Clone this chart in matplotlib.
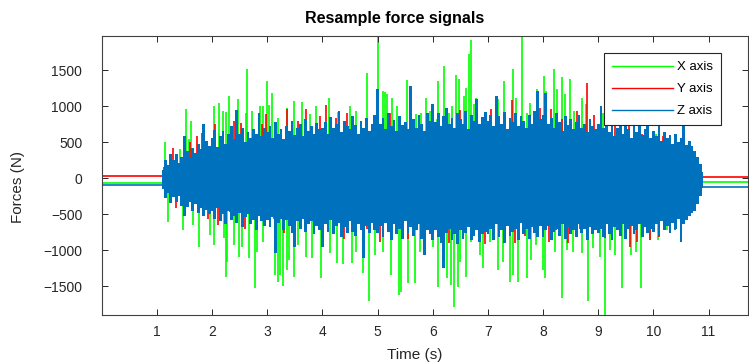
import numpy as np
import matplotlib
matplotlib.use('Agg')
import matplotlib.pyplot as plt
from matplotlib.lines import Line2D

# resting levels before / after the cut (N)
rest_before = [0.0, 1.09]
rest_after = [10.9, 11.71]
x_rest = [-62, -56]
y_rest = [25, 22]
z_rest = [-88, -115]

# Z axis (blue) band: upper / lower values every 0.05 s from 1.10 s to 10.90 s
z_start = 1.10
z_step = 0.05
z_hi = [120, 260, 180, 330, 250, 340, 210, 300, 590, 380, 300, 420, 350, 480, 400, 760, 520, 450,
        560, 670, 430, 590, 650, 480, 610, 720, 540, 950, 620, 700, 500, 640, 560, 690, 610, 910, 580, 700,
        640, 720, 560, 780, 610, 690, 540, 730, 650, 800, 600, 700, 760, 580, 820, 660, 720, 610, 770, 690,
        700, 780, 620, 850, 700, 760, 930, 640, 800, 720, 680, 860, 740, 610, 790, 700, 830, 660, 750, 880,
        1240, 760, 840, 680, 900, 720, 810, 650, 860, 740, 780, 690, 1280, 820, 700, 880, 760, 650, 900, 800,
        1030, 780, 900, 720, 860, 980, 760, 840, 700, 900, 820, 760, 940, 690, 880, 800, 1100, 750, 850, 920,
        800, 880, 720, 1140, 860, 760, 920, 690, 840, 780, 900, 730, 860, 800, 700, 880, 760, 940, 1210, 820,
        880, 1190, 760, 840, 700, 900, 780, 650, 860, 740, 820, 690, 780, 880, 700, 760, 640, 820, 720, 680,
        760, 1000, 700, 820, 640, 760, 580, 700, 800, 620, 740, 680, 560, 720, 640, 780, 600, 680, 720, 560,
        660, 580, 720, 520, 640, 560, 600, 480, 620, 500, 560, 720, 460, 520, 450, 380, 300, 200, 90]
z_lo = [-150, -280, -210, -350, -260, -330, -240, -380, -530, -400, -330, -450, -360, -480, -420, -520, -440, -500,
        -460, -560, -420, -600, -500, -640, -450, -580, -520, -620, -480, -680, -540, -500, -640, -580, -720, -520, -600, -660,
        -580, -680, -540, -1040, -620, -560, -720, -580, -660, -760, -950, -600, -700, -560, -740, -640, -600, -780, -660, -720,
        -950, -640, -740, -580, -780, -660, -620, -820, -680, -760, -600, -740, -800, -640, -720, -1110, -660, -760, -620, -720,
        -760, -660, -820, -620, -740, -860, -640, -780, -700, -840, -600, -760, -680, -800, -720, -640, -840, -1060, -720, -780,
        -860, -720, -820, -900, -1250, -760, -700, -860, -780, -920, -720, -840, -760, -680, -860, -800, -720, -880, -780, -740,
        -780, -700, -860, -640, -820, -720, -900, -660, -800, -740, -700, -860, -620, -780, -700, -840, -680, -760, -820, -660,
        -820, -720, -660, -860, -740, -700, -800, -640, -840, -680, -780, -720, -820, -640, -760, -700, -860, -680, -780, -720,
        -760, -700, -820, -640, -780, -860, -680, -720, -800, -640, -840, -700, -660, -780, -720, -640, -820, -680, -760, -700,
        -740, -640, -800, -600, -720, -660, -760, -620, -700, -560, -880, -640, -580, -520, -480, -460, -360, -240, -130]

# X axis (green) peaks
x_up_t = [1.14, 1.42, 1.53, 1.59, 1.62, 2.04, 2.13, 2.19, 2.26, 2.31, 2.47, 2.61, 2.64, 2.72, 2.87, 2.92,
          2.99, 3.03, 3.08, 3.19, 3.35, 3.49, 3.63, 3.78, 3.88, 4.12, 4.29, 4.50, 4.61, 4.80, 5.00, 5.09,
          5.13, 5.18, 5.27, 5.36, 5.53, 5.60, 5.70, 5.78, 5.88, 5.95, 6.08, 6.10, 6.20, 6.29, 6.35, 6.42,
          6.48, 6.56, 6.61, 6.65, 6.69, 6.75, 6.79, 6.95, 7.19, 7.29, 7.45, 7.51, 7.61, 7.70, 7.76, 7.89,
          8.02, 8.06, 8.20, 8.26, 8.35, 8.40, 8.49, 8.56, 8.70, 8.78, 9.08, 9.50, 9.85, 10.05, 10.30]
x_up_v = [505, 400, 968, 540, 796, 1005, 1042, 935, 921, 1143, 1097, 912, 1514, 935, 1005, 1005,
          1352, 1019, 1190, 843, 982, 1074, 1060, 889, 1005, 1116, 921, 1005, 935, 1458, 1990, 1213,
          1199, 1167, 1120, 1005, 1366, 1282, 889, 912, 1120, 935, 820, 1352, 1560, 912, 1005, 1430,
          1375, 1143, 1259, 1722, 1921, 1028, 1120, 843, 1097, 1352, 1523, 1120, 1990, 912, 1051, 1236,
          1421, 1213, 1514, 1236, 1412, 1167, 1375, 935, 1120, 1028, 912, 700, 680, 620, 560]
x_dn_t = [1.21, 1.48, 1.65, 1.77, 1.97, 2.04, 2.22, 2.26, 2.28, 2.39, 2.48, 2.54, 2.67, 2.78, 2.81, 2.93,
          3.15, 3.19, 3.23, 3.28, 3.35, 3.40, 3.49, 3.55, 3.70, 3.81, 3.97, 4.14, 4.26, 4.37, 4.53, 4.61,
          4.74, 4.84, 4.96, 5.10, 5.25, 5.38, 5.42, 5.56, 5.68, 5.77, 6.00, 6.10, 6.25, 6.34, 6.39, 6.46,
          6.49, 6.60, 6.70, 6.85, 6.92, 7.04, 7.19, 7.28, 7.40, 7.45, 7.54, 7.70, 7.79, 7.88, 8.00, 8.03,
          8.21, 8.34, 8.43, 8.55, 8.70, 8.81, 8.91, 9.04, 9.12, 9.21, 9.30, 9.44, 9.60, 9.69, 9.78, 9.93,
          10.09, 10.24]
x_dn_v = [-602, -718, -648, -949, -787, -926, -833, -1366, -1158, -926, -1088, -949, -1102, -1528, -1019, -880,
          -1343, -1445, -1343, -1491, -1273, -1134, -1366, -926, -1088, -1111, -1389, -1042, -1181, -1195, -1181, -1019,
          -1320, -1704, -1065, -1019, -1343, -1621, -1574, -1458, -1458, -1019, -949, -1505, -1389, -1482, -1783, -1505,
          -1158, -1366, -880, -1065, -1250, -880, -1273, -1158, -1445, -1343, -1445, -1389, -1134, -926, -1273, -1389,
          -1019, -1658, -995, -1019, -1042, -1704, -972, -1088, -1910, -995, -1065, -1528, -1065, -1019, -1519, -857,
          -857, -718]

# Y axis (red) peaks
y_up_t = [1.12, 1.24, 1.30, 1.60, 1.72, 1.82, 2.06, 2.16, 2.40, 2.52, 2.90, 2.97, 3.35, 3.55, 3.70, 3.95,
          4.06, 4.25, 4.45, 4.60, 4.81, 5.22, 5.48, 5.75, 6.06, 6.25, 6.50, 7.05, 7.19, 7.44, 7.95, 8.15,
          8.35, 8.61, 8.80, 8.92, 9.30, 9.55, 9.74, 9.80, 10.18, 10.26, 10.64, 10.70]
y_up_v = [150, 230, 420, 500, 588, 634, 760, 518, 800, 764, 750, 889, 968, 800, 958, 870,
          1014, 843, 900, 718, 782, 900, 611, 830, 736, 680, 950, 960, 750, 1088, 980, 960,
          820, 935, 1329, 880, 860, 800, 560, 620, 588, 450, 420, 380]
y_dn_t = [1.35, 1.55, 1.92, 2.10, 2.33, 2.60, 2.76, 3.12, 3.30, 3.47, 3.85, 4.03, 4.40, 4.80, 5.05, 5.19,
          5.55, 5.74, 6.07, 6.30, 6.70, 6.95, 7.28, 7.50, 7.67, 8.10, 8.24, 8.45, 8.67, 9.12, 9.57, 9.70,
          9.94, 10.10, 10.40, 10.50]
y_dn_v = [-420, -400, -560, -650, -470, -700, -520, -560, -760, -580, -780, -620, -850, -700, -880, -560,
          -850, -620, -700, -900, -860, -920, -700, -900, -800, -880, -720, -900, -700, -833, -949, -880,
          -857, -820, -720, -760]

green = '#00FF00'
red = '#FF0000'
blue = '#0072BD'
dark = '#262626'

plt.rcParams['font.family'] = ['Liberation Sans', 'DejaVu Sans']

fig = plt.figure(figsize=(7.49, 3.64), dpi=100)
ax = fig.add_axes([0.1358, 0.1346, 0.8625, 0.7665])

z_t = z_start + z_step * np.arange(len(z_hi))

# X axis (drawn first, underneath)
ax.plot(rest_before, [x_rest[0]] * 2, color=green, lw=1.2, zorder=1)
ax.plot(rest_after, [x_rest[1]] * 2, color=green, lw=1.2, zorder=1)
ax.vlines(x_up_t, 0, x_up_v, color=green, lw=1.2, zorder=1)
ax.vlines(x_dn_t, 0, x_dn_v, color=green, lw=1.2, zorder=1)

# Y axis
ax.plot(rest_before, [y_rest[0]] * 2, color=red, lw=1.2, zorder=2)
ax.plot(rest_after, [y_rest[1]] * 2, color=red, lw=1.2, zorder=2)
ax.vlines(y_up_t, 0, y_up_v, color=red, lw=1.2, zorder=2)
ax.vlines(y_dn_t, 0, y_dn_v, color=red, lw=1.2, zorder=2)

# Z axis (on top)
ax.plot(rest_before, [z_rest[0]] * 2, color=blue, lw=1.2, zorder=3)
ax.plot(rest_after, [z_rest[1]] * 2, color=blue, lw=1.2, zorder=3)
ax.fill_between(z_t, z_lo, z_hi, step='mid', color=blue, lw=0, zorder=3)

ax.set_xlim(0, 11.71)
ax.set_ylim(-1900, 1976)
ax.set_xticks(range(1, 12))
ax.set_yticks([-1500, -1000, -500, 0, 500, 1000, 1500])

for s in ax.spines.values():
    s.set_color('#404040')
    s.set_linewidth(0.8)
    s.set_zorder(5)
ax.tick_params(direction='in', length=4, width=0.7, color=dark, labelcolor=dark,
               labelsize=10, top=True, right=True)
ax.tick_params(axis='x', pad=7)
ax.tick_params(axis='y', pad=14)

ax.set_xlabel('Time (s)', fontsize=11, color=dark, va='center')
ax.xaxis.set_label_coords(0.484, -0.143)
ax.set_ylabel('Forces (N)', fontsize=11, color=dark, va='center')
ax.yaxis.set_label_coords(-0.129, 0.457)

fig.text(394.5 / 749, 1 - 18 / 364, 'Resample force signals', ha='center', va='center',
         fontsize=11.5, fontweight='bold', color='black')

handles = [Line2D([], [], color=green, lw=1.0),
           Line2D([], [], color=red, lw=1.0),
           Line2D([], [], color=blue, lw=1.0)]
leg = ax.legend(handles, ['X axis', 'Y axis', 'Z axis'], loc='upper left',
                bbox_to_anchor=(0.7775, 0.939), borderaxespad=0, fontsize=9.5,
                handlelength=4.6, handletextpad=0.35, labelspacing=0.75,
                borderpad=0.6, fancybox=False, framealpha=1, edgecolor=dark)
leg.get_frame().set_linewidth(0.8)
leg.set_zorder(10)

fig.savefig('out.png', dpi=100)
